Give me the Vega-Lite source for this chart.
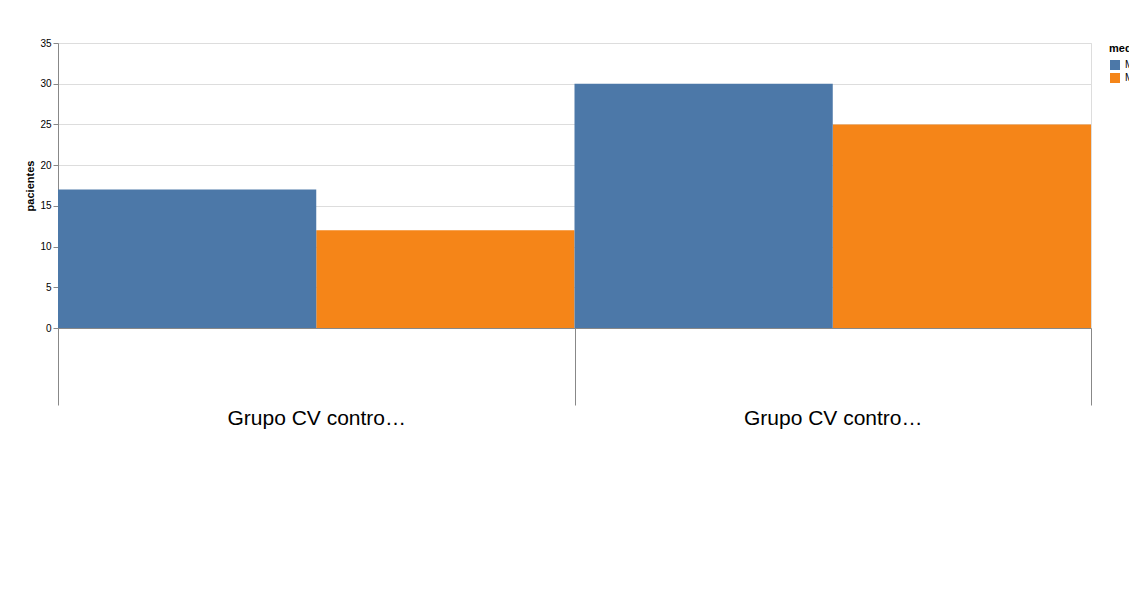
{
  "$schema": "https://vega.github.io/schema/vega-lite/v6.json",
  "background": "white",
  "padding": {"left": 24, "top": 38, "right": 10, "bottom": 5},
  "data": {"values": [
      {"grupo": "Grupo CV controlada", "categoria": "Grupo CV controlada / Test M-G-L", "medicion": "Medición inicial", "pacientes": 12},
      {"grupo": "Grupo CV controlada", "categoria": "Grupo CV controlada / Test M-G-L", "medicion": "Medición final", "pacientes": 17},
      {"grupo": "Grupo CV controlada", "categoria": "Grupo CV controlada / Cuestionario ACT", "medicion": "Medición inicial", "pacientes": 25},
      {"grupo": "Grupo CV controlada", "categoria": "Grupo CV controlada / Cuestionario ACT", "medicion": "Medición final", "pacientes": 30}
  ]},
  "width": 1033,
  "height": 285,
  "mark": {"type": "bar"},
  "encoding": {
    "x": {
      "field": "categoria",
      "type": "nominal",
      "sort": null,
      "scale": {"paddingInner": 0, "paddingOuter": 0},
      "axis": {
        "title": null,
        "labelFontSize": 21,
        "labelAngle": 0,
        "tickBand": "extent",
        "tickSize": 77
      }
    },
    "xOffset": {"field": "medicion", "type": "nominal"},
    "y": {"field": "pacientes", "type": "quantitative", "stack": null, "scale": {"domain": [0, 35]}},
    "color": {"field": "medicion", "type": "nominal"}
  }
}
